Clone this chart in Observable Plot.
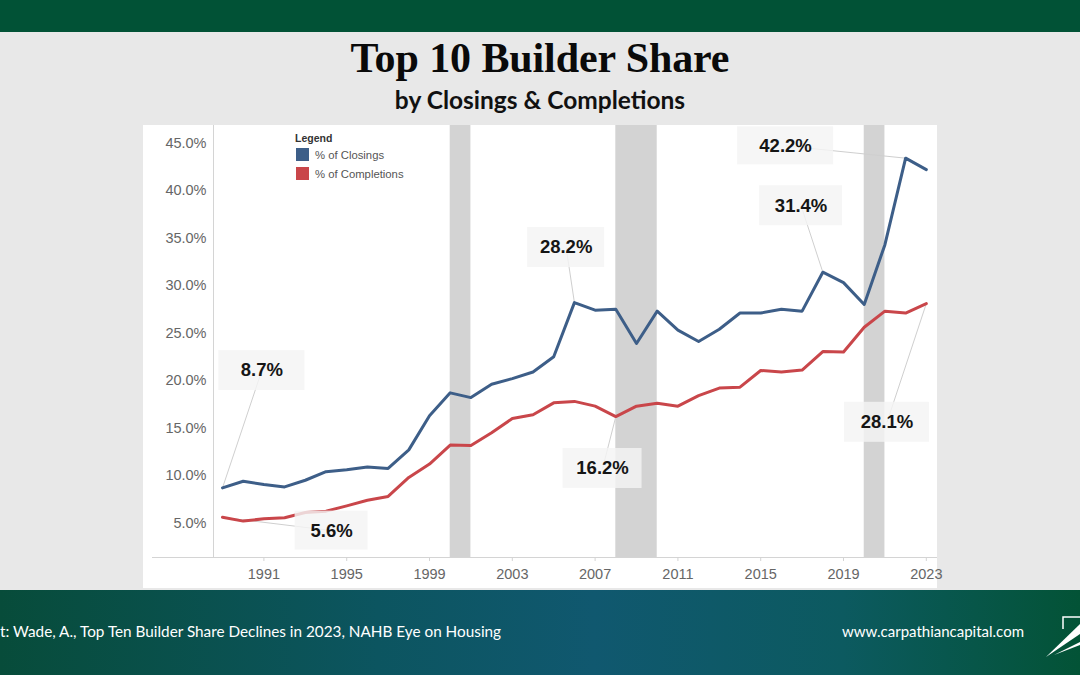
<!DOCTYPE html>
<html>
<head>
<meta charset="utf-8">
<script src="https://cdn.jsdelivr.net/npm/d3@7"></script>
<script src="https://cdn.jsdelivr.net/npm/@observablehq/plot@0.6"></script>
<style>
  html, body { margin: 0; padding: 0; }
  body { width: 1080px; height: 675px; overflow: hidden; background: #e8e8e8; position: relative; font-family: "Liberation Sans", Arial, sans-serif; }
  #topbar { position: absolute; left: 0; top: 0; width: 1080px; height: 32px; background: #015236; }
  #title { position: absolute; left: 0; width: 1080px; top: 33px; text-align: center; font-family: "Liberation Serif", "DejaVu Serif", serif; font-weight: bold; font-size: 42px; line-height: 50px; color: #0a0a0a; letter-spacing: -0.1px; }
  #subtitle { position: absolute; left: 0; width: 1080px; top: 85px; text-align: center; font-family: Lato, "Open Sans", sans-serif; font-weight: bold; font-size: 24.5px; line-height: 30px; color: #111; }
  #panel { position: absolute; left: 143px; top: 125px; width: 794px; height: 463px; background: #ffffff; }
  #legend { position: absolute; left: 295px; top: 132px; font-family: "Liberation Sans", Arial, sans-serif; }
  #legend .hd { font-size: 10.5px; font-weight: bold; color: #333; line-height: 13px; }
  #legend .it { display: flex; align-items: center; font-size: 11.3px; color: #555; height: 19px; }
  #legend .sw { width: 13px; height: 13px; margin-right: 6px; margin-left: 1px; }
  #footer { position: absolute; left: 0; top: 590px; width: 1080px; height: 85px;
    background: linear-gradient(90deg, #074c3a 0%, #0c5560 35%, #10586f 55%, #0c5a60 78%, #035336 100%); }
  #credit { position: absolute; left: 0; top: 622px; font-family: Lato, sans-serif; font-size: 15.3px; color: #ffffff; white-space: nowrap; }
  #url { position: absolute; left: 842px; top: 622px; font-family: Lato, sans-serif; font-size: 15px; color: #ffffff; white-space: nowrap; }
  #logo { position: absolute; left: 1040px; top: 612px; }
</style>
</head>
<body>
<div id="topbar"></div>
<div id="title">Top 10 Builder Share</div>
<div id="subtitle">by Closings &amp; Completions</div>
<div id="panel"></div>
<div id="legend"></div>
<div id="footer"></div>
<div id="credit">t: Wade, A., Top Ten Builder Share Declines in 2023, NAHB Eye on Housing</div>
<div id="url">www.carpathiancapital.com</div>
<svg id="logo" width="40" height="50" viewBox="0 0 40 50">
  <path d="M23 17 V5 H40" fill="none" stroke="#ffffff" stroke-width="1.5"/>
  <path d="M6 45 L40 12 L40 22 Z" fill="#ffffff"/>
  <path d="M14 43 L40 30 L40 33 Z" fill="#ffffff"/>
</svg>
<script>
// ---- data ----
const years = [1989, 1990, 1991, 1992, 1993, 1994, 1995, 1996, 1997, 1998, 1999, 2000, 2001, 2002, 2003, 2004, 2005, 2006, 2007, 2008, 2009, 2010, 2011, 2012, 2013, 2014, 2015, 2016, 2017, 2018, 2019, 2020, 2021, 2022, 2023];
const closings = [8.7, 9.4, 9.05, 8.8, 9.5, 10.4, 10.6, 10.9, 10.75, 12.7, 16.3, 18.7, 18.2, 19.6, 20.2, 20.9, 22.5, 28.2, 27.4, 27.5, 23.9, 27.3, 25.3, 24.1, 25.4, 27.1, 27.1, 27.5, 27.3, 31.4, 30.3, 28.0, 34.3, 43.4, 42.2];
const completions = [5.6, 5.2, 5.45, 5.55, 6.1, 6.25, 6.8, 7.4, 7.8, 9.8, 11.2, 13.2, 13.15, 14.5, 16.0, 16.4, 17.65, 17.8, 17.3, 16.2, 17.3, 17.6, 17.3, 18.4, 19.2, 19.3, 21.05, 20.9, 21.1, 23.05, 23.0, 25.6, 27.3, 27.1, 28.1];
const seriesNames = ["% of Closings", "% of Completions"];
const recessionStart = [2000, 2008, 2020];
const recessionEnd = [2001, 2010, 2021];
const yTicks = [5, 10, 15, 20, 25, 30, 35, 40, 45];
const xTicks = [1991, 1995, 1999, 2003, 2007, 2011, 2015, 2019, 2023];
const calloutLabels = ["8.7%", "5.6%", "28.2%", "16.2%", "31.4%", "42.2%", "28.1%"];
const calloutYears = [1989, 1989, 2006, 2008, 2018, 2022, 2023];
const calloutValues = [8.7, 5.6, 28.2, 16.2, 31.4, 43.4, 28.1];

// ---- layout / style (not data) ----
const colors = ["#3d5e88", "#c9464a"];
const calloutBoxYear = [1990.9, 1994.27, 2005.6, 2007.36, 2016.95, 2016.2, 2021.1];
const calloutBoxValue = [21.05, 4.2, 34.0, 10.74, 38.4, 44.7, 15.6];
const calloutBoxW = [86, 73, 77, 79, 83, 96, 85];
const calloutBoxH = [40, 39, 40, 40, 40, 38, 40];

const rows = [];
years.forEach((yr, i) => {
  rows.push({year: yr, value: closings[i], series: seriesNames[0]});
  rows.push({year: yr, value: completions[i], series: seriesNames[1]});
});
const recessions = recessionStart.map((s, i) => ({start: s, end: recessionEnd[i]}));
const callouts = calloutLabels.map((l, i) => ({
  label: l, year: calloutYears[i], value: calloutValues[i],
  bx: calloutBoxYear[i], by: calloutBoxValue[i], w: calloutBoxW[i], h: calloutBoxH[i]
}));

const xDomain = [1988.565, 2023.54];
const yDomain = [1.37, 46.84];

const boxMarks = callouts.map(c => Plot.rect([c], {
  x1: "bx", x2: "bx", y1: "by", y2: "by",
  insetLeft: -c.w / 2, insetRight: -c.w / 2, insetTop: -c.h / 2, insetBottom: -c.h / 2,
  fill: "#f4f4f4", fillOpacity: 0.82
}));

const chart = Plot.plot({
  width: 794,
  height: 463,
  marginLeft: 70,
  marginRight: 0,
  marginTop: 0,
  marginBottom: 31,
  style: {background: "#ffffff", fontFamily: "Liberation Sans, Arial, sans-serif", overflow: "visible"},
  x: {domain: xDomain, label: null},
  y: {domain: yDomain, label: null},
  color: {domain: seriesNames, range: colors},
  marks: [
    Plot.rect(recessions, {x1: "start", x2: "end", fill: "#d3d3d3"}),
    Plot.ruleX([xDomain[0]], {stroke: "#d4d4d4", strokeWidth: 1}),
    Plot.ruleY([yDomain[0]], {stroke: "#d4d4d4", strokeWidth: 1, insetLeft: -61}),
    Plot.axisY({ticks: yTicks, tickFormat: d => d.toFixed(1) + "%", tickSize: 0, tickPadding: 7, fontSize: 14.5, fill: "#666", label: null}),
    Plot.axisX({ticks: xTicks, tickFormat: d => String(d), tickSize: 4, tickPadding: 7, fontSize: 14.5, stroke: "#d4d4d4", fill: "#666", label: null}),
    Plot.link(callouts, {x1: "year", y1: "value", x2: "bx", y2: "by", stroke: "#cfcfcf", strokeWidth: 1}),
    Plot.line(rows, {x: "year", y: "value", z: "series", stroke: "series", strokeWidth: 3, strokeLinejoin: "round", strokeLinecap: "round"}),
    ...boxMarks,
    Plot.text(callouts, {x: "bx", y: "by", text: "label", fontSize: 18.5, fontWeight: "bold", fill: "#151515"})
  ]
});
document.getElementById("panel").appendChild(chart);

// legend
const lg = document.getElementById("legend");
const hd = document.createElement("div");
hd.className = "hd"; hd.textContent = "Legend";
lg.appendChild(hd);
seriesNames.forEach((n, i) => {
  const it = document.createElement("div");
  it.className = "it";
  const sw = document.createElement("div");
  sw.className = "sw"; sw.style.background = colors[i];
  const tx = document.createElement("span");
  tx.textContent = n;
  it.appendChild(sw); it.appendChild(tx);
  lg.appendChild(it);
});
</script>
</body>
</html>
